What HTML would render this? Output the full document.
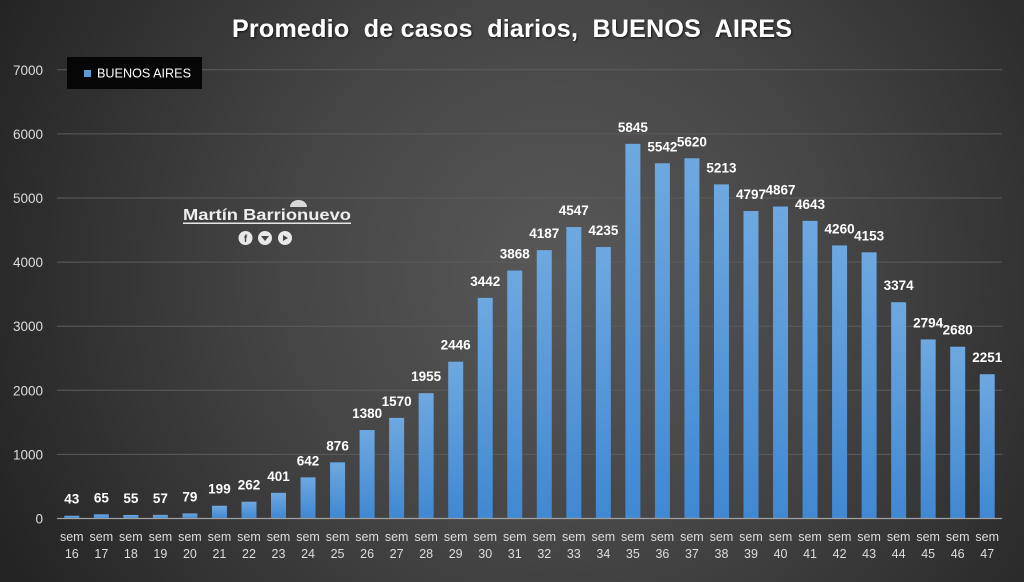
<!DOCTYPE html>
<html>
<head>
<meta charset="utf-8">
<style>
html,body{margin:0;padding:0;width:1024px;height:582px;overflow:hidden;background:#2a2a2a;}
svg{display:block;}
</style>
</head>
<body>
<svg width="1024" height="582" viewBox="0 0 1024 582" xmlns="http://www.w3.org/2000/svg">
<defs>
<radialGradient id="bg" cx="560" cy="270" r="620" gradientUnits="userSpaceOnUse">
<stop offset="0" stop-color="#585858"/>
<stop offset="0.45" stop-color="#454545"/>
<stop offset="1" stop-color="#242424"/>
</radialGradient>
<linearGradient id="bar" x1="0" y1="0" x2="0" y2="1">
<stop offset="0" stop-color="#6ea8e0"/>
<stop offset="1" stop-color="#4088d2"/>
</linearGradient>
<filter id="sh" x="-5%" y="-20%" width="110%" height="140%">
<feDropShadow dx="1" dy="1" stdDeviation="1" flood-color="#000" flood-opacity="0.7"/>
</filter>
</defs>
<rect width="1024" height="582" fill="url(#bg)"/>

<!-- title -->
<text x="232" y="37" font-family="Liberation Sans, sans-serif" font-weight="bold" font-size="25" fill="#ffffff" textLength="560" lengthAdjust="spacing" filter="url(#sh)" xml:space="preserve">Promedio  de casos  diarios,  BUENOS  AIRES</text>

<!-- gridlines -->
<g stroke="#5c5c5c" stroke-width="1">
<line x1="57" y1="454.4" x2="1002" y2="454.4"/>
<line x1="57" y1="390.3" x2="1002" y2="390.3"/>
<line x1="57" y1="326.2" x2="1002" y2="326.2"/>
<line x1="57" y1="262.1" x2="1002" y2="262.1"/>
<line x1="57" y1="198" x2="1002" y2="198"/>
<line x1="57" y1="133.9" x2="1002" y2="133.9"/>
<line x1="57" y1="69.8" x2="1002" y2="69.8"/>
</g>

<!-- y labels -->
<g font-family="Liberation Sans, sans-serif" font-size="13.5" fill="#dddddd" text-anchor="end">
<text x="43" y="523.5">0</text>
<text x="43" y="459.4">1000</text>
<text x="43" y="395.3">2000</text>
<text x="43" y="331.2">3000</text>
<text x="43" y="267.1">4000</text>
<text x="43" y="203">5000</text>
<text x="43" y="138.9">6000</text>
<text x="43" y="74.8">7000</text>
</g>

<!-- legend -->
<rect x="67" y="57" width="135" height="32" fill="#060606"/>
<rect x="84" y="70" width="7" height="7" fill="#5b9bd5"/>
<text x="97" y="77.5" font-family="Liberation Sans, sans-serif" font-size="12.5" fill="#ffffff" textLength="94" lengthAdjust="spacingAndGlyphs">BUENOS AIRES</text>

<!-- watermark -->
<path d="M290 207 A8.5 7 0 0 1 307 207 Z" fill="#d8d8d8"/>
<text x="183" y="220" font-family="Liberation Sans, sans-serif" font-weight="bold" font-size="16" fill="#eeeeee" textLength="168" lengthAdjust="spacingAndGlyphs">Martín Barrionuevo</text>
<rect x="183" y="222.5" width="168" height="1.5" fill="#e6e6e6"/>
<circle cx="245.5" cy="238" r="7" fill="#e8e8e8"/>
<circle cx="265" cy="238" r="7" fill="#e8e8e8"/>
<circle cx="285" cy="238" r="7" fill="#e8e8e8"/>
<text x="245.5" y="242" font-family="Liberation Sans, sans-serif" font-weight="bold" font-size="10" fill="#444" text-anchor="middle">f</text>
<path d="M261 236 L269 236 L265 241 Z" fill="#444"/>
<path d="M283 235 L288 238 L283 241 Z" fill="#444"/>

<!-- bars -->
<g fill="url(#bar)">
<rect x="64.3" y="515.74" width="15" height="2.76"/>
<rect x="93.83" y="514.33" width="15" height="4.17"/>
<rect x="123.36" y="514.97" width="15" height="3.53"/>
<rect x="152.89" y="514.85" width="15" height="3.65"/>
<rect x="182.42" y="513.44" width="15" height="5.06"/>
<rect x="211.95" y="505.74" width="15" height="12.76"/>
<rect x="241.48" y="501.71" width="15" height="16.79"/>
<rect x="271.01" y="492.8" width="15" height="25.7"/>
<rect x="300.54" y="477.35" width="15" height="41.15"/>
<rect x="330.07" y="462.35" width="15" height="56.15"/>
<rect x="359.6" y="430.04" width="15" height="88.46"/>
<rect x="389.13" y="417.86" width="15" height="100.64"/>
<rect x="418.66" y="393.18" width="15" height="125.32"/>
<rect x="448.19" y="361.71" width="15" height="156.79"/>
<rect x="477.72" y="297.87" width="15" height="220.63"/>
<rect x="507.25" y="270.56" width="15" height="247.94"/>
<rect x="536.78" y="250.11" width="15" height="268.39"/>
<rect x="566.31" y="227.04" width="15" height="291.46"/>
<rect x="595.84" y="247.04" width="15" height="271.46"/>
<rect x="625.37" y="143.84" width="15" height="374.66"/>
<rect x="654.9" y="163.26" width="15" height="355.24"/>
<rect x="684.43" y="158.26" width="15" height="360.24"/>
<rect x="713.96" y="184.35" width="15" height="334.15"/>
<rect x="743.49" y="211.01" width="15" height="307.49"/>
<rect x="773.02" y="206.53" width="15" height="311.97"/>
<rect x="802.55" y="220.88" width="15" height="297.62"/>
<rect x="832.08" y="245.43" width="15" height="273.07"/>
<rect x="861.61" y="252.29" width="15" height="266.21"/>
<rect x="891.14" y="302.23" width="15" height="216.27"/>
<rect x="920.67" y="339.4" width="15" height="179.1"/>
<rect x="950.2" y="346.71" width="15" height="171.79"/>
<rect x="979.73" y="374.21" width="15" height="144.29"/>
</g>

<!-- axis line -->
<line x1="57" y1="518.5" x2="1002" y2="518.5" stroke="#a0a0a0" stroke-width="1.2"/>

<!-- value labels -->
<g font-family="Liberation Sans, sans-serif" font-weight="bold" font-size="13.5" fill="#ffffff" text-anchor="middle">
<text x="71.8" y="503.7">43</text>
<text x="101.33" y="502.3">65</text>
<text x="130.86" y="503">55</text>
<text x="160.39" y="502.9">57</text>
<text x="189.92" y="501.4">79</text>
<text x="219.45" y="493.7">199</text>
<text x="248.98" y="489.7">262</text>
<text x="278.51" y="480.8">401</text>
<text x="308.04" y="465.4">642</text>
<text x="337.57" y="450.4">876</text>
<text x="367.1" y="418">1380</text>
<text x="396.63" y="405.9">1570</text>
<text x="426.16" y="381.2">1955</text>
<text x="455.69" y="349.7">2446</text>
<text x="485.22" y="285.9">3442</text>
<text x="514.75" y="258.6">3868</text>
<text x="544.28" y="238.1">4187</text>
<text x="573.81" y="215">4547</text>
<text x="603.34" y="235">4235</text>
<text x="632.87" y="131.8">5845</text>
<text x="662.4" y="151.3">5542</text>
<text x="691.93" y="146.3">5620</text>
<text x="721.46" y="172.4">5213</text>
<text x="750.99" y="199">4797</text>
<text x="780.52" y="194.5">4867</text>
<text x="810.05" y="208.9">4643</text>
<text x="839.58" y="233.4">4260</text>
<text x="869.11" y="240.3">4153</text>
<text x="898.64" y="290.2">3374</text>
<text x="928.17" y="327.4">2794</text>
<text x="957.7" y="334.7">2680</text>
<text x="987.23" y="362.2">2251</text>
</g>

<!-- x labels -->
<g font-family="Liberation Sans, sans-serif" font-size="12.5" fill="#dddddd" text-anchor="middle">
<text x="71.8" y="541">sem</text><text x="71.8" y="558">16</text>
<text x="101.33" y="541">sem</text><text x="101.33" y="558">17</text>
<text x="130.86" y="541">sem</text><text x="130.86" y="558">18</text>
<text x="160.39" y="541">sem</text><text x="160.39" y="558">19</text>
<text x="189.92" y="541">sem</text><text x="189.92" y="558">20</text>
<text x="219.45" y="541">sem</text><text x="219.45" y="558">21</text>
<text x="248.98" y="541">sem</text><text x="248.98" y="558">22</text>
<text x="278.51" y="541">sem</text><text x="278.51" y="558">23</text>
<text x="308.04" y="541">sem</text><text x="308.04" y="558">24</text>
<text x="337.57" y="541">sem</text><text x="337.57" y="558">25</text>
<text x="367.1" y="541">sem</text><text x="367.1" y="558">26</text>
<text x="396.63" y="541">sem</text><text x="396.63" y="558">27</text>
<text x="426.16" y="541">sem</text><text x="426.16" y="558">28</text>
<text x="455.69" y="541">sem</text><text x="455.69" y="558">29</text>
<text x="485.22" y="541">sem</text><text x="485.22" y="558">30</text>
<text x="514.75" y="541">sem</text><text x="514.75" y="558">31</text>
<text x="544.28" y="541">sem</text><text x="544.28" y="558">32</text>
<text x="573.81" y="541">sem</text><text x="573.81" y="558">33</text>
<text x="603.34" y="541">sem</text><text x="603.34" y="558">34</text>
<text x="632.87" y="541">sem</text><text x="632.87" y="558">35</text>
<text x="662.4" y="541">sem</text><text x="662.4" y="558">36</text>
<text x="691.93" y="541">sem</text><text x="691.93" y="558">37</text>
<text x="721.46" y="541">sem</text><text x="721.46" y="558">38</text>
<text x="750.99" y="541">sem</text><text x="750.99" y="558">39</text>
<text x="780.52" y="541">sem</text><text x="780.52" y="558">40</text>
<text x="810.05" y="541">sem</text><text x="810.05" y="558">41</text>
<text x="839.58" y="541">sem</text><text x="839.58" y="558">42</text>
<text x="869.11" y="541">sem</text><text x="869.11" y="558">43</text>
<text x="898.64" y="541">sem</text><text x="898.64" y="558">44</text>
<text x="928.17" y="541">sem</text><text x="928.17" y="558">45</text>
<text x="957.7" y="541">sem</text><text x="957.7" y="558">46</text>
<text x="987.23" y="541">sem</text><text x="987.23" y="558">47</text>
</g>
</svg>
</body>
</html>
